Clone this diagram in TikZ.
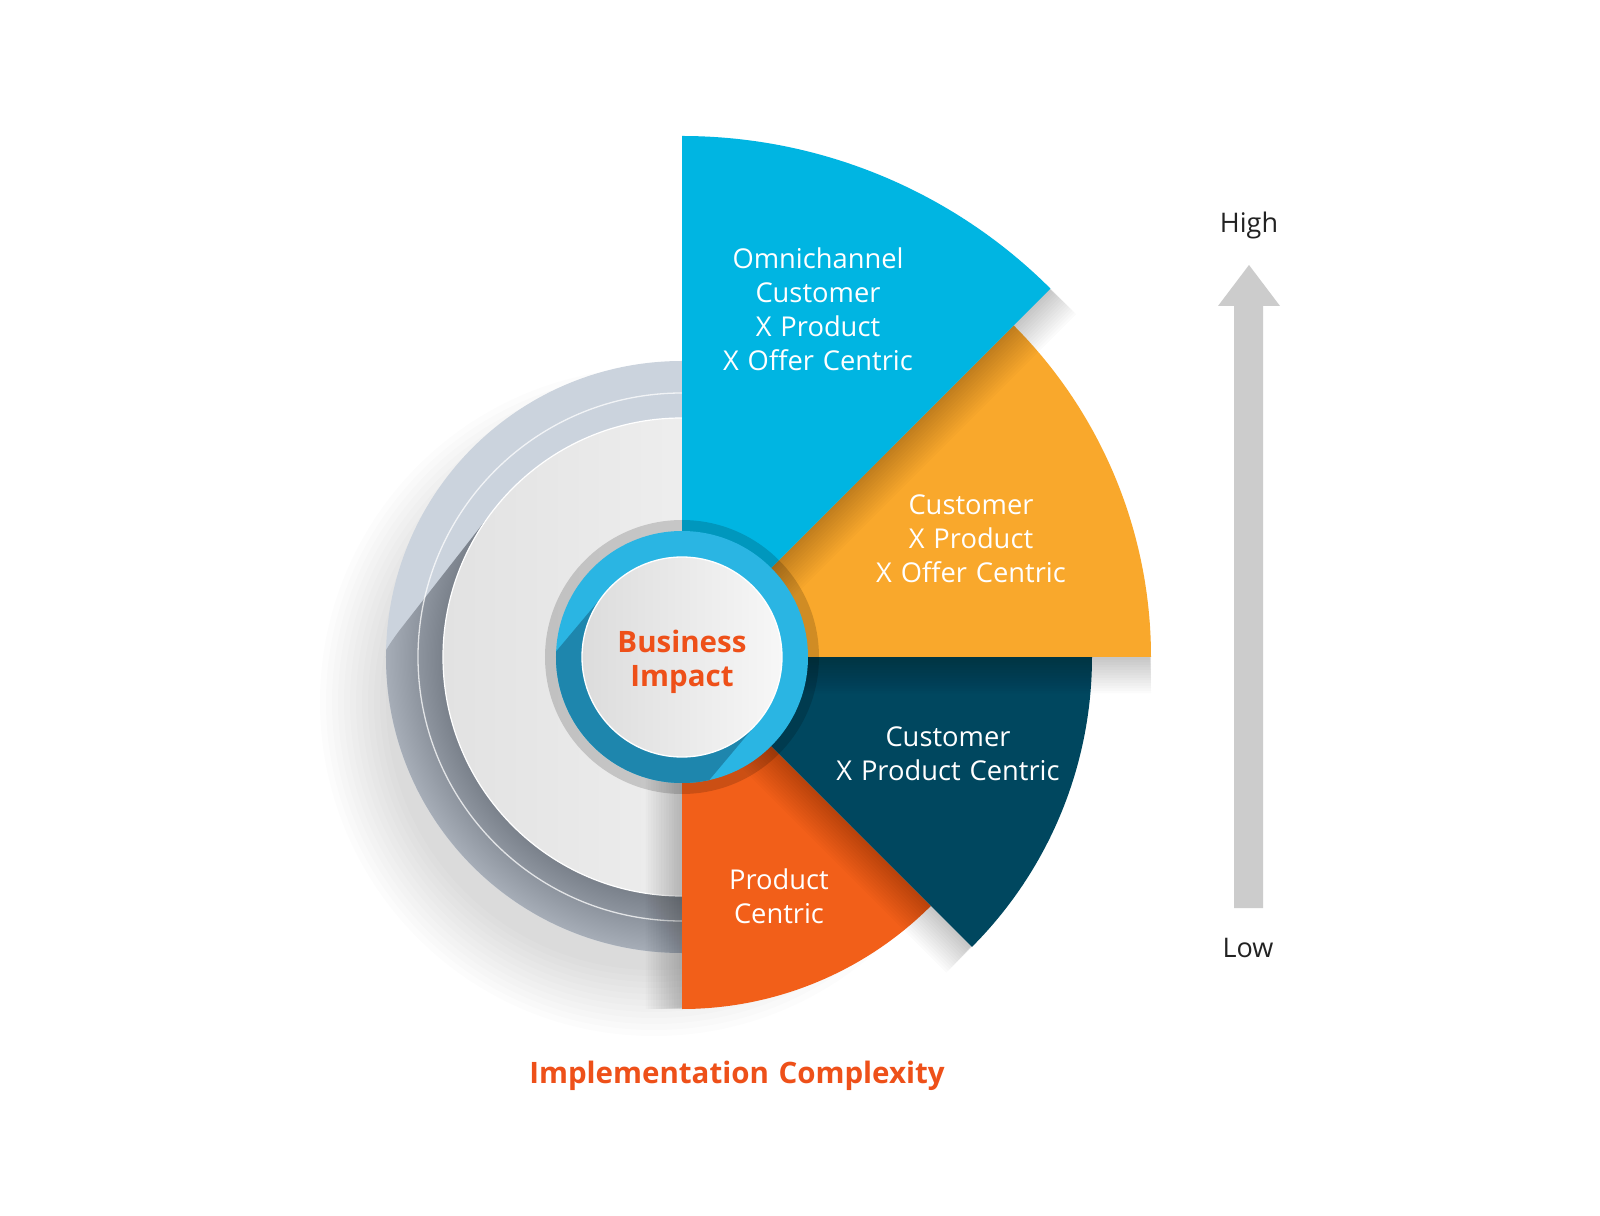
\documentclass[tikz,border=0pt]{standalone}
\usepackage{fontspec}
\setmainfont{Open Sans}[WordSpace=1.25]
\usetikzlibrary{calc}
\definecolor{cblue}{HTML}{00B5E2}
\definecolor{corange}{HTML}{F9A82C}
\definecolor{cteal}{HTML}{00475F}
\definecolor{cred}{HTML}{F25F19}
\definecolor{ctext}{HTML}{EE5019}
\definecolor{cring}{HTML}{CBD3DD}
\definecolor{ringdk}{HTML}{7A818B}
\definecolor{ringlt}{HTML}{A6ADB7}
\definecolor{carrow}{HTML}{CCCCCC}
\definecolor{cbring}{HTML}{2AB5E3}
\definecolor{cbringdk}{HTML}{1E86AD}
\definecolor{cdark}{HTML}{222222}
\pgfdeclareradialshading{ringsh}{\pgfpoint{0bp}{0bp}}{color(0bp)=(ringdk); color(20.2bp)=(ringdk); color(25bp)=(ringlt); color(50bp)=(ringlt)}
\begin{document}
\begin{tikzpicture}[x=1pt,y=1pt,
  sectortext/.style={text=white, align=center, font=\fontsize{27.3}{34}\selectfont},
  boldtext/.style={text=ctext, align=center, font=\fontsize{29.5}{34}\selectfont\bfseries},
  axistext/.style={text=cdark, font=\fontsize{27}{34}\selectfont},
  shadowlayer/.style={black, opacity=0.017}]
\useasboundingbox (-682,-558) rectangle (918,657);
\fill[white] (-682,-558) rectangle (918,657);

% big soft drop shadow of the rings
\foreach \k in {0,...,11}{
  \fill[black, opacity=0.011] (-28,-45) circle[radius=268+\k*6];
}
% outer ring
\fill[cring] (0,0) circle[radius=296];
\begin{scope}
  \clip (0,0) circle[radius=296];
  \clip ($(232:150)+(142:239)$) arc[start angle=142,end angle=322,radius=239]
        -- (322:239) arc[start angle=322,end angle=502,radius=239] -- cycle;
  \shade[shading=ringsh] (0,0) circle[radius=296];
\end{scope}
\draw[white, opacity=0.75, line width=1.3] (0,0) circle[radius=264];
% inner light disc
\shade[left color={rgb,255:red,226;green,226;blue,226}, right color={rgb,255:red,249;green,249;blue,249}] (0,0) circle[radius=239];
\draw[white, line width=1.2] (0,0) circle[radius=239];

% red sector
\foreach \k in {1,...,14}{
  \fill[shadowlayer, shift={(180:\k*2.6)}] (0,0) -- (270:352) arc[start angle=270,end angle=315,radius=352] -- cycle;
}
\fill[cred] (0,0) -- (270:352) arc[start angle=270,end angle=315,radius=352] -- cycle;
% teal sector
\foreach \k in {1,...,14}{
  \fill[shadowlayer, shift={(225:\k*2.6)}] (0,0) -- (315:410) arc[start angle=315,end angle=360,radius=410] -- cycle;
}
\fill[cteal] (0,0) -- (315:410) arc[start angle=315,end angle=360,radius=410] -- cycle;
% orange sector
\foreach \k in {1,...,14}{
  \fill[shadowlayer, shift={(270:\k*2.6)}] (0,0) -- (0:469) arc[start angle=0,end angle=45,radius=469] -- cycle;
}
\fill[corange] (0,0) -- (0:469) arc[start angle=0,end angle=45,radius=469] -- cycle;
% blue sector
\foreach \k in {1,...,14}{
  \fill[shadowlayer, shift={(315:\k*2.6)}] (0,0) -- (45:521) arc[start angle=45,end angle=90,radius=521] -- cycle;
}
\fill[cblue] (0,0) -- (45:521) arc[start angle=45,end angle=90,radius=521] -- cycle;

% centre: halo, blue ring, white disc
\fill[black, opacity=0.16] (0,0) circle[radius=137];
\fill[cbring] (0,0) circle[radius=126];
\begin{scope}
  \clip (0,0) circle[radius=126];
  \fill[cbringdk] ($(230:80)+(140:100)$) arc[start angle=140,end angle=320,radius=100]
        -- (320:100) arc[start angle=320,end angle=500,radius=100] -- cycle;
\end{scope}
\shade[left color={rgb,255:red,220;green,220;blue,220}, right color={rgb,255:red,247;green,247;blue,247}] (0,0) circle[radius=100];
\draw[white, line width=1.3] (0,0) circle[radius=100];

% texts
\node[boldtext] (impact) at (0,-5) {Business\\Impact};
\node[sectortext] (omni) at (136,348) {Omnichannel\\Customer\\X Product\\X Offer Centric};
\node[sectortext] (cpo) at (289,118) {Customer\\X Product\\X Offer Centric};
\node[sectortext] (cp) at (266,-97) {Customer\\X Product Centric};
\node[sectortext] (prod) at (97,-239) {Product\\Centric};
\node[boldtext] (complexity) at (55,-419) {Implementation Complexity};

% axis arrow
\fill[carrow] (552,-251) -- (552,351) -- (536,351) -- (567,392) -- (598,351) -- (581,351) -- (581,-251) -- cycle;
\node[axistext] (high) at (567,432) {High};
\node[axistext] (low) at (566,-291) {Low};
\end{tikzpicture}
\end{document}
